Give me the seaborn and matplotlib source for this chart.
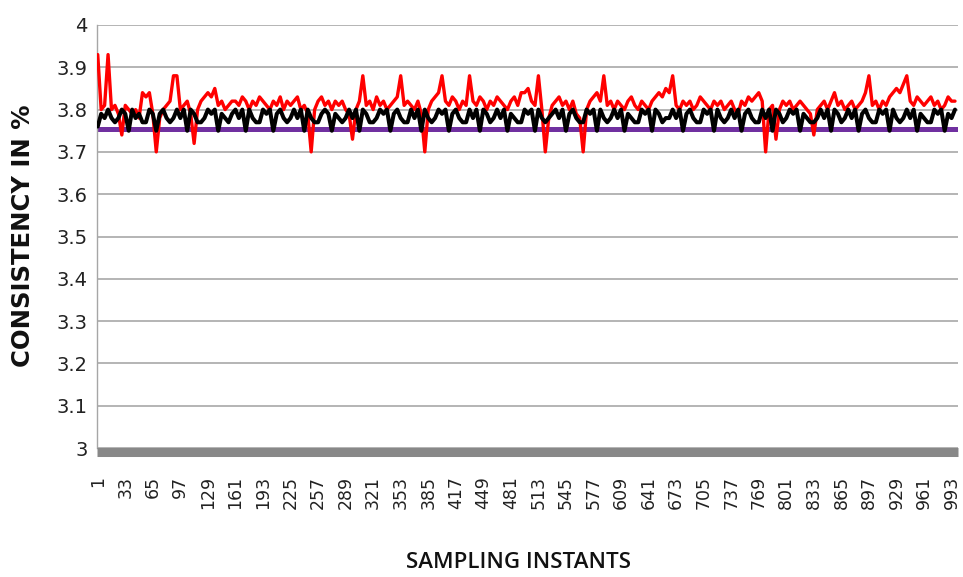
# Consistency vs sampling instants (recreated chart)
import numpy as np
import matplotlib
matplotlib.use('Agg')
import matplotlib.pyplot as plt
import seaborn as sns

# === Data (every 4th sampling instant) ===
red_consistency = [
    3.93, 3.80, 3.81, 3.93, 3.80, 3.81, 3.79, 3.74, 3.81, 3.80,
    3.79, 3.80, 3.78, 3.84, 3.83, 3.84, 3.79, 3.70, 3.78, 3.80,
    3.81, 3.82, 3.88, 3.88, 3.80, 3.81, 3.82, 3.79, 3.72, 3.80,
    3.82, 3.83, 3.84, 3.83, 3.85, 3.81, 3.82, 3.80, 3.81, 3.82,
    3.82, 3.81, 3.83, 3.82, 3.80, 3.82, 3.81, 3.83, 3.82, 3.81,
    3.80, 3.82, 3.81, 3.83, 3.80, 3.82, 3.81, 3.82, 3.83, 3.80,
    3.81, 3.79, 3.70, 3.80, 3.82, 3.83, 3.81, 3.82, 3.80, 3.82,
    3.81, 3.82, 3.80, 3.79, 3.73, 3.80, 3.82, 3.88, 3.81, 3.82,
    3.80, 3.83, 3.81, 3.82, 3.80, 3.81, 3.82, 3.83, 3.88, 3.81,
    3.82, 3.81, 3.80, 3.82, 3.79, 3.70, 3.80, 3.82, 3.83, 3.84,
    3.88, 3.82, 3.81, 3.83, 3.82, 3.80, 3.82, 3.81, 3.88, 3.82,
    3.81, 3.83, 3.82, 3.80, 3.82, 3.81, 3.83, 3.82, 3.81, 3.80,
    3.82, 3.83, 3.81, 3.84, 3.84, 3.85, 3.82, 3.81, 3.88, 3.80,
    3.70, 3.78, 3.81, 3.82, 3.83, 3.81, 3.82, 3.80, 3.82, 3.79,
    3.78, 3.70, 3.80, 3.82, 3.83, 3.84, 3.82, 3.88, 3.81, 3.82,
    3.80, 3.82, 3.81, 3.80, 3.82, 3.83, 3.81, 3.80, 3.82, 3.81,
    3.80, 3.82, 3.83, 3.84, 3.83, 3.85, 3.84, 3.88, 3.81, 3.80,
    3.82, 3.81, 3.82, 3.80, 3.81, 3.83, 3.82, 3.81, 3.80, 3.82,
    3.81, 3.82, 3.80, 3.81, 3.82, 3.80, 3.79, 3.82, 3.81, 3.83,
    3.82, 3.83, 3.84, 3.82, 3.70, 3.80, 3.81, 3.73, 3.80, 3.82,
    3.81, 3.82, 3.80, 3.81, 3.82, 3.81, 3.80, 3.79, 3.74, 3.80,
    3.81, 3.82, 3.80, 3.82, 3.84, 3.81, 3.82, 3.80, 3.81, 3.82,
    3.80, 3.81, 3.82, 3.84, 3.88, 3.81, 3.82, 3.80, 3.82, 3.81,
    3.83, 3.84, 3.85, 3.84, 3.86, 3.88, 3.82, 3.81, 3.83, 3.82,
    3.81, 3.82, 3.83, 3.81, 3.82, 3.80, 3.81, 3.83, 3.82, 3.82,
]

black_consistency = [
    3.76, 3.79, 3.78, 3.80, 3.78, 3.77, 3.78, 3.80, 3.79,
    3.75,
    3.80, 3.78, 3.79, 3.77, 3.77, 3.80, 3.79,
    3.75,
    3.79, 3.80, 3.78, 3.77, 3.78, 3.80, 3.78, 3.80,
    3.75,
    3.80, 3.79, 3.77, 3.77, 3.78, 3.80, 3.79, 3.80,
    3.75,
    3.79, 3.78, 3.77, 3.79, 3.80, 3.78, 3.80,
    3.75,
    3.80, 3.78, 3.77, 3.77, 3.80, 3.79, 3.80,
    3.75,
    3.79, 3.80, 3.78, 3.77, 3.78, 3.80, 3.78, 3.80,
    3.75,
    3.80, 3.78, 3.77, 3.77, 3.79, 3.80, 3.79,
    3.75,
    3.79, 3.78, 3.77, 3.78, 3.80, 3.78, 3.80,
    3.75,
    3.80, 3.79, 3.77, 3.77, 3.78, 3.80, 3.79, 3.80,
    3.75,
    3.79, 3.80, 3.78, 3.77, 3.77, 3.80, 3.78, 3.80,
    3.75,
    3.80, 3.78, 3.77, 3.78, 3.80, 3.79, 3.80,
    3.75,
    3.79, 3.80, 3.78, 3.77, 3.77, 3.80, 3.78, 3.80,
    3.75,
    3.80, 3.79, 3.77, 3.78, 3.80, 3.78, 3.80,
    3.75,
    3.79, 3.78, 3.77, 3.77, 3.80, 3.79, 3.80,
    3.75,
    3.80, 3.78, 3.77, 3.78, 3.79, 3.80, 3.78, 3.80,
    3.75,
    3.79, 3.80, 3.78, 3.77, 3.77, 3.80, 3.79, 3.80,
    3.75,
    3.80, 3.78, 3.77, 3.78, 3.80, 3.78, 3.80,
    3.75,
    3.79, 3.78, 3.77, 3.77, 3.80, 3.79, 3.80,
    3.75,
    3.80, 3.79, 3.77, 3.78, 3.78, 3.80, 3.78, 3.80,
    3.75,
    3.79, 3.80, 3.78, 3.77, 3.77, 3.80, 3.79, 3.80,
    3.75,
    3.80, 3.78, 3.77, 3.78, 3.80, 3.78, 3.80,
    3.75,
    3.79, 3.80, 3.78, 3.77, 3.77, 3.80, 3.78, 3.80,
    3.75,
    3.80, 3.79, 3.77, 3.78, 3.80, 3.79, 3.80,
    3.75,
    3.79, 3.78, 3.77, 3.77, 3.78, 3.80, 3.78, 3.80,
    3.75,
    3.80, 3.79, 3.77, 3.78, 3.80, 3.78, 3.80,
    3.75,
    3.79, 3.80, 3.78, 3.77, 3.77, 3.80, 3.79, 3.80,
    3.75,
    3.80, 3.78, 3.77, 3.78, 3.80, 3.78, 3.80,
    3.75,
    3.79, 3.78, 3.77, 3.77, 3.80, 3.79, 3.80,
    3.75,
    3.79, 3.78, 3.80,
]

set_point = 3.755
x_tick_labels = list(range(1, 1000, 32))
y_ticks = [3.0, 3.1, 3.2, 3.3, 3.4, 3.5, 3.6, 3.7, 3.8, 3.9, 4.0]

red_instants = np.arange(1, 4 * len(red_consistency), 4)
black_instants = np.arange(1, 4 * len(black_consistency), 4)

# === Style ===
sns.set_style('white')
plt.rcParams['font.family'] = ['DejaVu Sans']

fig = plt.figure(figsize=(9.63, 5.77), dpi=100)
ax = fig.add_axes([97.3 / 963, 1 - 448 / 577, (958 - 97.3) / 963, (448 - 25) / 577])

# spines first (set_position resets the ticks)
for side in ['top', 'right']:
    ax.spines[side].set_visible(False)
ax.spines['left'].set_color('#A6A6A6')
ax.spines['left'].set_linewidth(1.0)
ax.spines['bottom'].set_position(('outward', 3.2))
ax.spines['bottom'].set_color('#888888')
ax.spines['bottom'].set_linewidth(6.5)
ax.spines['bottom'].set_capstyle('butt')

ax.axhline(set_point, color='#7030A0', linewidth=3.6, zorder=2)
sns.lineplot(x=red_instants, y=red_consistency, color='#FF0000', linewidth=2.4, ax=ax, zorder=3)
sns.lineplot(x=black_instants, y=black_consistency, color='#000000', linewidth=2.9, ax=ax, zorder=4)

ax.set_xlim(0.5, 1000.5)
ax.set_ylim(3.0, 4.0)
ax.set_yticks(y_ticks)
ax.set_yticklabels([f'{v:g}' for v in y_ticks], fontsize=14, color='#222222')
ax.set_xticks(x_tick_labels)
ax.set_xticklabels([str(v) for v in x_tick_labels], fontsize=12.5, color='#222222')

ax.grid(axis='y', color='#A0A0A0', linewidth=1.1)
ax.grid(axis='x', visible=False)
ax.set_axisbelow(True)

ax.tick_params(axis='x', length=0, pad=17, labelrotation=90)
ax.tick_params(axis='y', length=5, width=1, color='#A0A0A0', pad=2)

ax.set_xlabel('')
ax.set_ylabel('')
fig.text(0.0235, 1 - 236 / 577, 'CONSISTENCY IN %', rotation=90, ha='center', va='center',
         fontsize=17.5, fontweight='bold', color='#111111')
fig.text(0.538, 1 - 563 / 577, 'SAMPLING INSTANTS', ha='center', va='center',
         fontsize=16, fontweight='semibold', family=['Open Sans', 'DejaVu Sans'], color='#111111')

fig.savefig('out.png', dpi=100)
